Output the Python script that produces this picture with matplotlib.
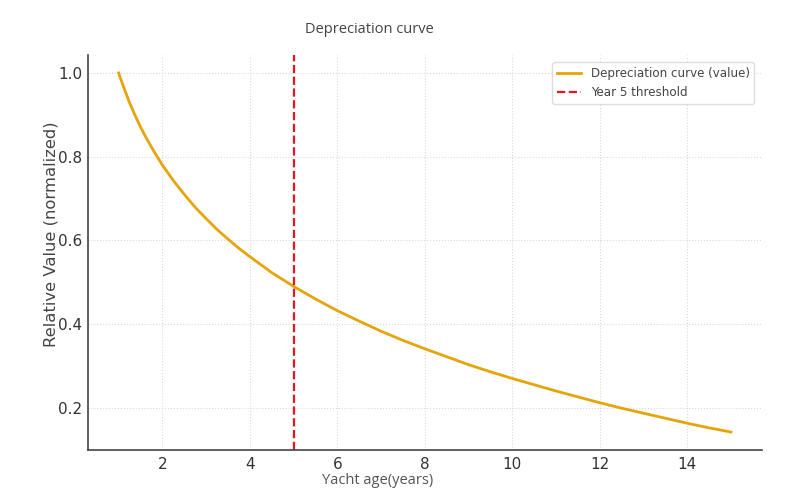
import matplotlib
matplotlib.use("Agg")
import matplotlib.pyplot as plt

# Data
years = [1, 1.125, 1.25, 1.375, 1.5, 1.625, 1.75, 1.875, 2, 2.25, 2.5, 2.75, 3, 3.25, 3.5, 3.75,
         4, 4.5, 5, 5.5, 6, 6.5, 7, 7.5, 8, 8.5, 9, 9.5, 10, 10.5, 11, 11.5, 12, 12.5,
         13, 13.5, 14, 14.5, 15]
values = [1.000, 0.963, 0.929, 0.899, 0.871, 0.846, 0.823, 0.801, 0.780, 0.743, 0.710, 0.679,
          0.652, 0.626, 0.603, 0.581, 0.561, 0.523, 0.490, 0.460, 0.432, 0.407, 0.383, 0.361,
          0.341, 0.322, 0.303, 0.286, 0.270, 0.255, 0.240, 0.226, 0.212, 0.199, 0.187, 0.175,
          0.163, 0.152, 0.142]
threshold_year = 5
xticks = [2, 4, 6, 8, 10, 12, 14]
yticks = [0.2, 0.4, 0.6, 0.8, 1.0]

fig = plt.figure(figsize=(8, 5), dpi=100)
ax = fig.add_axes([0.11, 0.10, 0.842, 0.79])

ax.plot(years, values, color="#E5A50A", lw=2, label="Depreciation curve (value)")
ax.axvline(threshold_year, color="#E8141E", ls="--", lw=1.6, label="Year 5 threshold")

ax.set_xticks(xticks)
ax.set_yticks(yticks)
ax.tick_params(length=0, labelsize=11, colors="#333333")
ax.tick_params(axis="y", pad=4)
ax.tick_params(axis="x", pad=5)
ax.grid(True, color="#d9d9d9", ls=":", lw=0.8)
for s in ["top", "right"]:
    ax.spines[s].set_visible(False)
for s in ["left", "bottom"]:
    ax.spines[s].set_color("#444444")
    ax.spines[s].set_linewidth(1.2)

ax.set_xlabel("Yacht age(years)", fontsize=10.5, color="#555555", family="Open Sans",
              x=0.43, labelpad=1)
ax.set_ylabel("Relative Value (normalized)", fontsize=11.8, color="#444444", y=0.547, labelpad=0)
ax.set_title("Depreciation curve", fontsize=10.5, color="#444444", pad=16, family="Open Sans",
             x=0.417)

leg = ax.legend(loc="upper right", fontsize=8.6, frameon=True, framealpha=1,
                edgecolor="#dddddd", labelcolor="#444444", borderaxespad=0.6)

fig.savefig("out.png", dpi=100)
